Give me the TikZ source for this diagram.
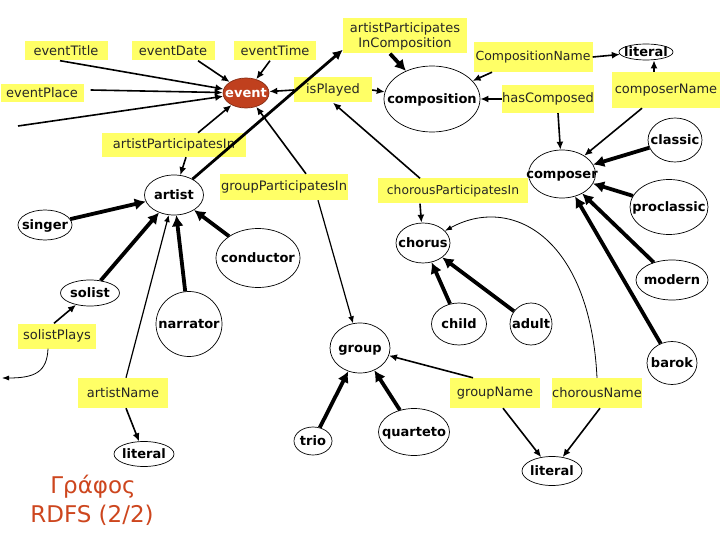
\documentclass[tikz,border=0pt]{standalone}
\usepackage{fontspec}
\setmainfont{DejaVu Sans}
\usetikzlibrary{shapes.geometric,arrows.meta,calc}
\definecolor{propyellow}{RGB}{255,255,102}
\definecolor{eventred}{RGB}{192,64,30}
\definecolor{titlered}{RGB}{205,70,30}
\newcommand{\ct}[1]{\makebox[0pt]{\raisebox{-0.33em}[0pt][0pt]{#1}}}
\begin{document}
\begin{tikzpicture}[x=1pt,y=-1pt,
  prop/.style={fill=propyellow, inner sep=0pt, text=black!85, font=\fontsize{13}{15}\selectfont},
  cls/.style={ellipse, draw, line width=0.7pt, inner sep=0pt, font=\fontsize{13}{15}\selectfont\bfseries},
  medarr/.style={line width=1.6pt, -{Latex[length=8pt,width=7pt]}},
  thinarr/.style={line width=1.2pt, -{Latex[length=7pt,width=6pt]}},
  thickarr/.style={line width=3.8pt, -{Latex[length=11pt,width=12pt]}},
  midthick/.style={line width=2.8pt, -{Latex[length=10pt,width=10pt]}},
  curvearr/.style={line width=0.8pt, -{Latex[length=7pt,width=5pt]}},
]
\useasboundingbox (0,0) rectangle (720,540);

% property boxes
\node[prop, minimum width=83pt, minimum height=19pt] (eventTitle) at (66,51) {eventTitle};
\node[prop, minimum width=83pt, minimum height=19pt] (eventDate) at (173,51) {eventDate};
\node[prop, minimum width=82pt, minimum height=19pt] (eventTime) at (275,51) {eventTime};
\node[prop, minimum width=83pt, minimum height=18pt] (eventPlace) at (42,93) {eventPlace};
\node[prop, minimum width=78pt, minimum height=25pt] (isPlayed) at (333,90) {isPlayed};
\node[prop, minimum width=144pt, minimum height=24pt] (apIn) at (174,145) {artistParticipatesIn};
\node[prop, minimum width=124pt, minimum height=35pt, align=center] (apComp) at (405,36) {artistParticipates\\InComposition};
\node[prop, minimum width=119pt, minimum height=30pt, font=\fontsize{12.5}{15}\selectfont] (compName) at (533,57) {CompositionName};
\node[prop, minimum width=89pt, minimum height=28pt] (hasComposed) at (548,99) {hasComposed};
\node[prop, minimum width=108pt, minimum height=36pt] (composerName) at (666,90) {composerName};
\node[prop, minimum width=150pt, minimum height=25pt, font=\fontsize{12.3}{15}\selectfont] (cpIn) at (453,191) {chorousParticipatesIn};
\node[prop, minimum width=128pt, minimum height=26pt] (gpIn) at (284,187) {groupParticipatesIn};
\node[prop, minimum width=78pt, minimum height=25pt] (solistPlays) at (57,336) {solistPlays};
\node[prop, minimum width=90pt, minimum height=30pt] (artistName) at (123,393) {artistName};
\node[prop, minimum width=90pt, minimum height=30pt] (groupName) at (495,393) {groupName};
\node[prop, minimum width=90pt, minimum height=30pt] (chorousName) at (597,393) {chorousName};

% classes
\node[cls, fill=eventred, draw=eventred!70!black, text=white, minimum width=46pt, minimum height=30pt] (event) at (246,93) {\ct{event}};
\node[cls, minimum width=96pt, minimum height=66pt] (composition) at (432,99) {\ct{composition}};
\node[cls, minimum width=54pt, minimum height=16pt] (litTop) at (646,52) {\ct{literal}};
\node[cls, minimum width=59pt, minimum height=40pt] (artist) at (174,195) {\ct{artist}};
\node[cls, minimum width=54pt, minimum height=30pt] (singer) at (45,225) {\ct{singer}};
\node[cls, minimum width=84pt, minimum height=59pt] (conductor) at (258,258) {\ct{conductor}};
\node[cls, minimum width=59pt, minimum height=26pt] (solist) at (90,293) {\ct{solist}};
\node[cls, minimum width=66pt, minimum height=65pt] (narrator) at (189,324) {\ct{narrator}};
\node[cls, minimum width=60pt, minimum height=25pt] (litBL) at (144,454) {\ct{literal}};
\node[cls, minimum width=60pt, minimum height=50pt] (group) at (360,348) {\ct{group}};
\node[cls, minimum width=38pt, minimum height=28pt] (trio) at (313,441) {\ct{trio}};
\node[cls, minimum width=71pt, minimum height=47pt] (quarteto) at (414,432) {\ct{quarteto}};
\node[cls, minimum width=54pt, minimum height=40pt] (chorus) at (423,243) {\ct{chorus}};
\node[cls, minimum width=55pt, minimum height=42pt] (child) at (459,324) {\ct{child}};
\node[cls, minimum width=42pt, minimum height=42pt] (adult) at (531,324) {\ct{adult}};
\node[cls, minimum width=67pt, minimum height=48pt] (composer) at (562,174) {\ct{composer}};
\node[cls, minimum width=54pt, minimum height=44pt] (classic) at (675,140) {\ct{classic}};
\node[cls, minimum width=78pt, minimum height=55pt] (proclassic) at (669,207) {\ct{proclassic}};
\node[cls, minimum width=72pt, minimum height=40pt] (modern) at (672,280) {\ct{modern}};
\node[cls, minimum width=50pt, minimum height=43pt] (barok) at (672,363) {\ct{barok}};
\node[cls, minimum width=60pt, minimum height=29pt] (litBR) at (552,471) {\ct{literal}};

% title
\node[text=titlered, font=\fontsize{23}{26}\selectfont] (title1) at (93,487) {Γράφος};
\node[text=titlered, font=\fontsize{23}{26}\selectfont] (title2) at (92,515) {RDFS (2/2)};

\coordinate (free1) at (18,126);
\coordinate (free2) at (2,378);

% event connectors
\draw[medarr] ($(eventTitle.south)+(-6,0)$) -- (event);
\draw[medarr] ($(eventDate.south)+(25,0)$) -- (event);
\draw[medarr] ($(eventTime.south)+(-5,0)$) -- (event);
\draw[medarr] ($(eventPlace.east)+(7,-3)$) -- (event);
\draw[medarr] (free1) -- (event);
\draw[medarr] (isPlayed.west) -- (event);
\draw[medarr] (isPlayed.east) -- (composition);
\draw[medarr] ($(apIn.north)+(24,0)$) -- (event);
\draw[medarr] ($(apIn.south)+(12,0)$) -- (artist);
\draw[midthick] (artist) -- ($(apComp.south west)+(0,-4)$);
\draw[thickarr] ($(apComp.south)+(-15,0)$) -- (composition);
\draw[medarr] ($(gpIn.north)+(22,0)$) -- (event);
\draw[thinarr] ($(gpIn.south)+(34,0)$) -- (group);
\draw[medarr] ($(cpIn.north)+(-33,0)$) -- (isPlayed.south);
\draw[medarr] ($(cpIn.south)+(-33,0)$) -- (chorus);

% composition / composer
\draw[medarr] ($(compName.south)+(-41,0)$) -- (composition);
\draw[medarr] (compName.east) -- (litTop);
\draw[medarr] ($(composerName.north)+(-12,0)$) -- ($(litTop.south)+(8,0)$);
\draw[medarr] (hasComposed.west) -- (composition);
\draw[medarr] ($(hasComposed.south)+(10,0)$) -- (composer);
\draw[medarr] ($(composerName.south)+(-24,0)$) -- (composer);
\draw[thickarr] (classic) -- (composer);
\draw[thickarr] (proclassic) -- (composer);
\draw[thickarr] (modern) -- (composer);
\draw[thickarr] (barok) -- (composer);

% chorus
\draw[thickarr] (child) -- (chorus);
\draw[thickarr] (adult) -- (chorus);
\draw[curvearr] (chorousName.north) .. controls (590,235) and (510,195) .. (chorus);

% group
\draw[medarr] ($(groupName.north)+(-22,0)$) -- (group);
\draw[medarr] ($(groupName.south)+(8,0)$) -- (litBR);
\draw[medarr] ($(chorousName.south)+(3,0)$) -- (litBR);
\draw[thickarr] (trio) -- (group);
\draw[thickarr] (quarteto) -- (group);

% artist
\draw[thickarr] (singer) -- (artist);
\draw[thickarr] (solist) -- (artist);
\draw[thickarr] (narrator) -- (artist);
\draw[thickarr] (conductor) -- (artist);
\draw[medarr] ($(solistPlays.north)+(-3,0)$) -- (solist);
\draw[curvearr] ($(solistPlays.south)+(-9,0)$) .. controls (47,372) and (35,378) .. (free2);
\draw[thinarr] ($(artistName.north)+(3,0)$) -- (artist);
\draw[medarr] ($(artistName.south)+(3,0)$) -- (litBL);
\end{tikzpicture}
\end{document}
